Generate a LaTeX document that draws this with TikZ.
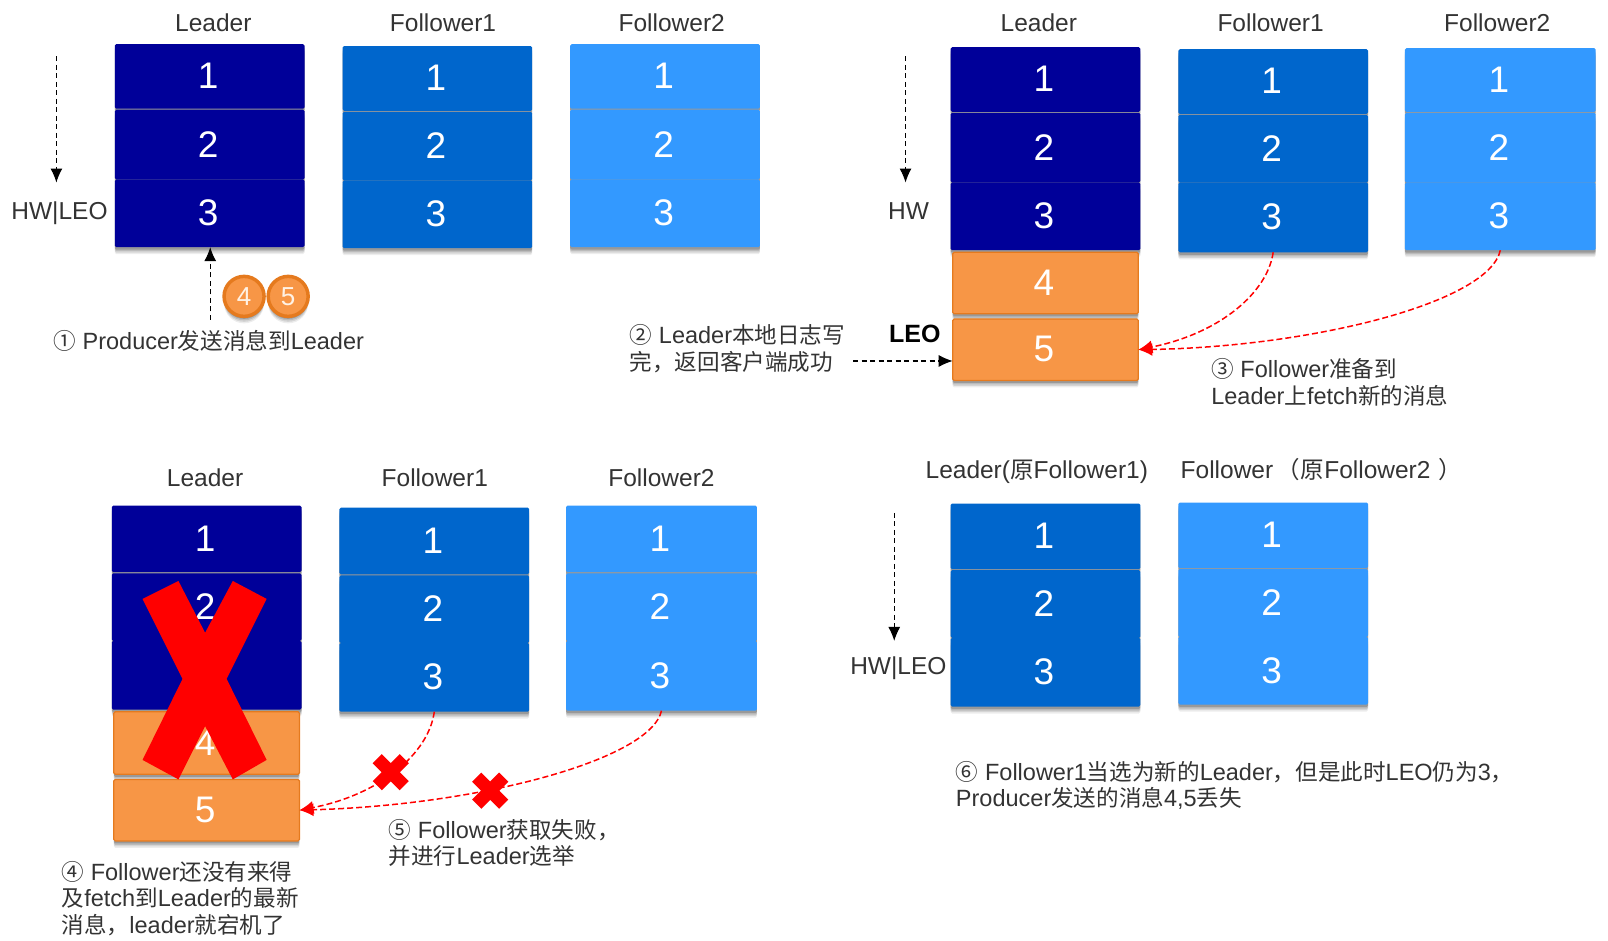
\documentclass[tikz,border=0pt]{standalone}
\usepackage{fontspec}
\usetikzlibrary{shadows,shapes.misc,calc,arrows.meta}
\setmainfont{Liberation Sans}
\newfontfamily\zhfont[Scale=0.96]{Noto Sans CJK SC}
\newcommand{\zh}[1]{{\zhfont #1}}
\definecolor{cdark}{HTML}{000099}
\definecolor{cmid}{HTML}{0066CC}
\definecolor{clight}{HTML}{3399FF}
\definecolor{corange}{HTML}{F79646}
\definecolor{cedge}{HTML}{E57A1E}
\definecolor{ctext}{HTML}{333333}
\tikzset{
  softshadow/.style={
    general shadow={shadow xshift=0pt, shadow yshift=-7pt, opacity=.07, fill=black},
    general shadow={shadow xshift=0pt, shadow yshift=-5.5pt, opacity=.10, fill=black},
    general shadow={shadow xshift=0pt, shadow yshift=-4pt, opacity=.12, fill=black},
    general shadow={shadow xshift=0pt, shadow yshift=-2.5pt, opacity=.18, fill=black}},
  cellbox/.style={inner sep=0pt, outer sep=0pt, rounded corners=1.5pt, text=white,
    font=\fontsize{37}{39}\selectfont, softshadow},
  darkc/.style={cellbox, fill=cdark},
  midc/.style={cellbox, fill=cmid},
  lightc/.style={cellbox, fill=clight},
  orangec/.style={cellbox, fill=corange, draw=cedge, line width=1.2pt},
  title/.style={text=ctext, inner sep=0pt, font=\fontsize{24.5}{26}\selectfont},
  note/.style={text=ctext, inner sep=0pt, anchor=west, align=left, font=\fontsize{23.5}{26.5}\selectfont},
  blackdash/.style={draw=black, line width=1.1pt, dash pattern=on 5pt off 3.5pt, -{Latex[length=14pt,width=12pt]}},
  reddash/.style={draw=red, line width=1.5pt, dash pattern=on 6pt off 3pt, -{Latex[length=14pt,width=13pt]}},
  badge/.style={circle, fill=corange, draw=cedge, line width=3.5pt, minimum size=40pt, inner sep=0pt,
    text=white!90!orange, font=\fontsize{26}{28}\selectfont, softshadow},
  failx/.style={cross out, draw=red, line width=13pt, minimum size=14pt, inner sep=0pt}
}
\newcommand{\cellnode}[7]{%
  \pgfmathsetmacro\cellx{(#2+#3)/2}%
  \pgfmathsetmacro\celly{(#4+#5)/2}%
  \pgfmathsetmacro\cellw{#3-#2}%
  \pgfmathsetmacro\cellh{#5-#4}%
  \node[#6, minimum width=\cellw*1.0255pt, minimum height=\cellh*1.0255pt] (#1) at (\cellx,\celly) {\hspace*{-3pt}\raisebox{1pt}{#7}};%
}
\newcommand{\stacknodes}[8]{%
  \cellnode{#1a}{#2}{#3}{#4}{#5-1}{#8}{1}%
  \cellnode{#1b}{#2}{#3}{#5+1}{#6-1}{#8}{2}%
  \cellnode{#1c}{#2}{#3}{#6+1}{#7}{#8}{3}%
}
\begin{document}
\begin{tikzpicture}[x=1.0255pt,y=-1.0255pt]
\useasboundingbox (0,0) rectangle (1568,917);
% panel 1
\node[title] (t1) at (208,22) {Leader};
\node[title] (t2) at (432,22) {Follower1};
\node[title] (t3) at (655,22) {Follower2};
\stacknodes{pa}{112}{297}{43}{107}{175}{240}{darkc}
\stacknodes{pb}{334}{519}{45}{109}{176}{241}{midc}
\stacknodes{pc}{556}{741}{43}{107}{175}{240}{lightc}
\node[title] (hw1) at (58,208) {HW|LEO};
\coordinate (a1s) at (55,55);
\coordinate (a1e) at (55,178);
\draw[blackdash] (a1s) -- (a1e);
\node[badge] (b4) at (238,289) {4};
\node[badge] (b5) at (281,289) {5};
\coordinate (a2s) at (205,312);
\draw[blackdash] (a2s) -- (a2s |- pac.south);
\node[note] (n1) at (52,332) {\zh{①} Producer\zh{发送消息到}Leader};
% panel 2
\node[title] (t4) at (1013,22) {Leader};
\node[title] (t5) at (1239,22) {Follower1};
\node[title] (t6) at (1460,22) {Follower2};
\stacknodes{qa}{927}{1112}{46}{110}{178}{243}{darkc}
\stacknodes{qb}{1149}{1334}{48}{112}{178}{245}{midc}
\stacknodes{qc}{1370}{1556}{47}{110}{178}{243}{lightc}
\cellnode{qd}{929}{1110}{246}{306}{orangec}{4}
\cellnode{qe}{929}{1110}{311}{371}{orangec}{5}
\node[title] (hw2) at (886,206) {HW};
\node[title, text=black, font=\fontsize{25}{26}\selectfont\bfseries] (leo) at (892,326) {LEO};
\coordinate (a3s) at (883,55);
\coordinate (a3e) at (883,178);
\draw[blackdash] (a3s) -- (a3e);
\coordinate (a4s) at (832,352);
\draw[blackdash] (a4s) -- (a4s -| qe.west);
\node[note] (n2) at (614,340) {\zh{②} Leader\zh{本地日志写}\\\zh{完，返回客户端成功}};
\node[note] (n3) at (1181,373) {\zh{③} Follower\zh{准备到}\\Leader\zh{上}fetch\zh{新的消息}};
\draw[reddash] (qbc.south) .. controls (1236,285) and (1190,325) .. (qe.east);
\draw[reddash] (qcc.south) .. controls (1452,295) and (1280,338) .. (qe.east);
% panel 3
\node[title] (t7) at (200,466) {Leader};
\node[title] (t8) at (424,466) {Follower1};
\node[title] (t9) at (645,466) {Follower2};
\stacknodes{ra}{109}{294}{493}{559}{625}{691}{darkc}
\stacknodes{rb}{331}{516}{495}{561}{627}{693}{midc}
\stacknodes{rc}{552}{738}{493}{559}{625}{692}{lightc}
\cellnode{rd}{111}{292}{694}{755}{orangec}{4}
\cellnode{re}{111}{292}{760}{820}{orangec}{5}
\fill[red] (139,584) -- (174,566.5) -- (200,617) -- (227,566.5) -- (260,584) -- (221,662) -- (260,741) -- (227,760) -- (200,708) -- (174,760) -- (139,741) -- (178,662) -- cycle;
\draw[reddash] (rbc.south) .. controls (418,735) and (370,775) .. (re.east);
\draw[reddash] (rcc.south) .. controls (635,740) and (470,785) .. (re.east);
\node[failx] (x1) at (381,753) {};
\node[failx] (x2) at (478,771) {};
\node[note] (n4) at (60,876) {\zh{④} Follower\zh{还没有来得}\\\zh{及}fetch\zh{到}Leader\zh{的最新}\\\zh{消息，}leader\zh{就宕机了}};
\node[note] (n5) at (379,822) {\zh{⑤} Follower\zh{获取失败，}\\\zh{并进行}Leader\zh{选举}};
% panel 4
\node[title] (t10) at (1011,460) {Leader(\zh{原}Follower1)};
\node[title] (t11) at (1288.5,458) {Follower\hspace{3pt}\zh{（}\hspace{1pt}\zh{原}Follower2\hspace{8pt}\zh{）}};
\stacknodes{sa}{927}{1112}{491}{556}{622}{688}{midc}
\stacknodes{sb}{1149}{1334}{490}{555}{621}{686}{lightc}
\node[title] (hw3) at (876,652) {HW|LEO};
\coordinate (a5s) at (872,500);
\coordinate (a5e) at (872,625);
\draw[blackdash] (a5s) -- (a5e);
\node[note] (n6) at (932,766) {\zh{⑥} Follower1\zh{当选为新的}Leader\zh{，但是此时}LEO\zh{仍为}3\zh{，}\\Producer\zh{发送的消息}4,5\zh{丢失}};
\end{tikzpicture}
\end{document}
